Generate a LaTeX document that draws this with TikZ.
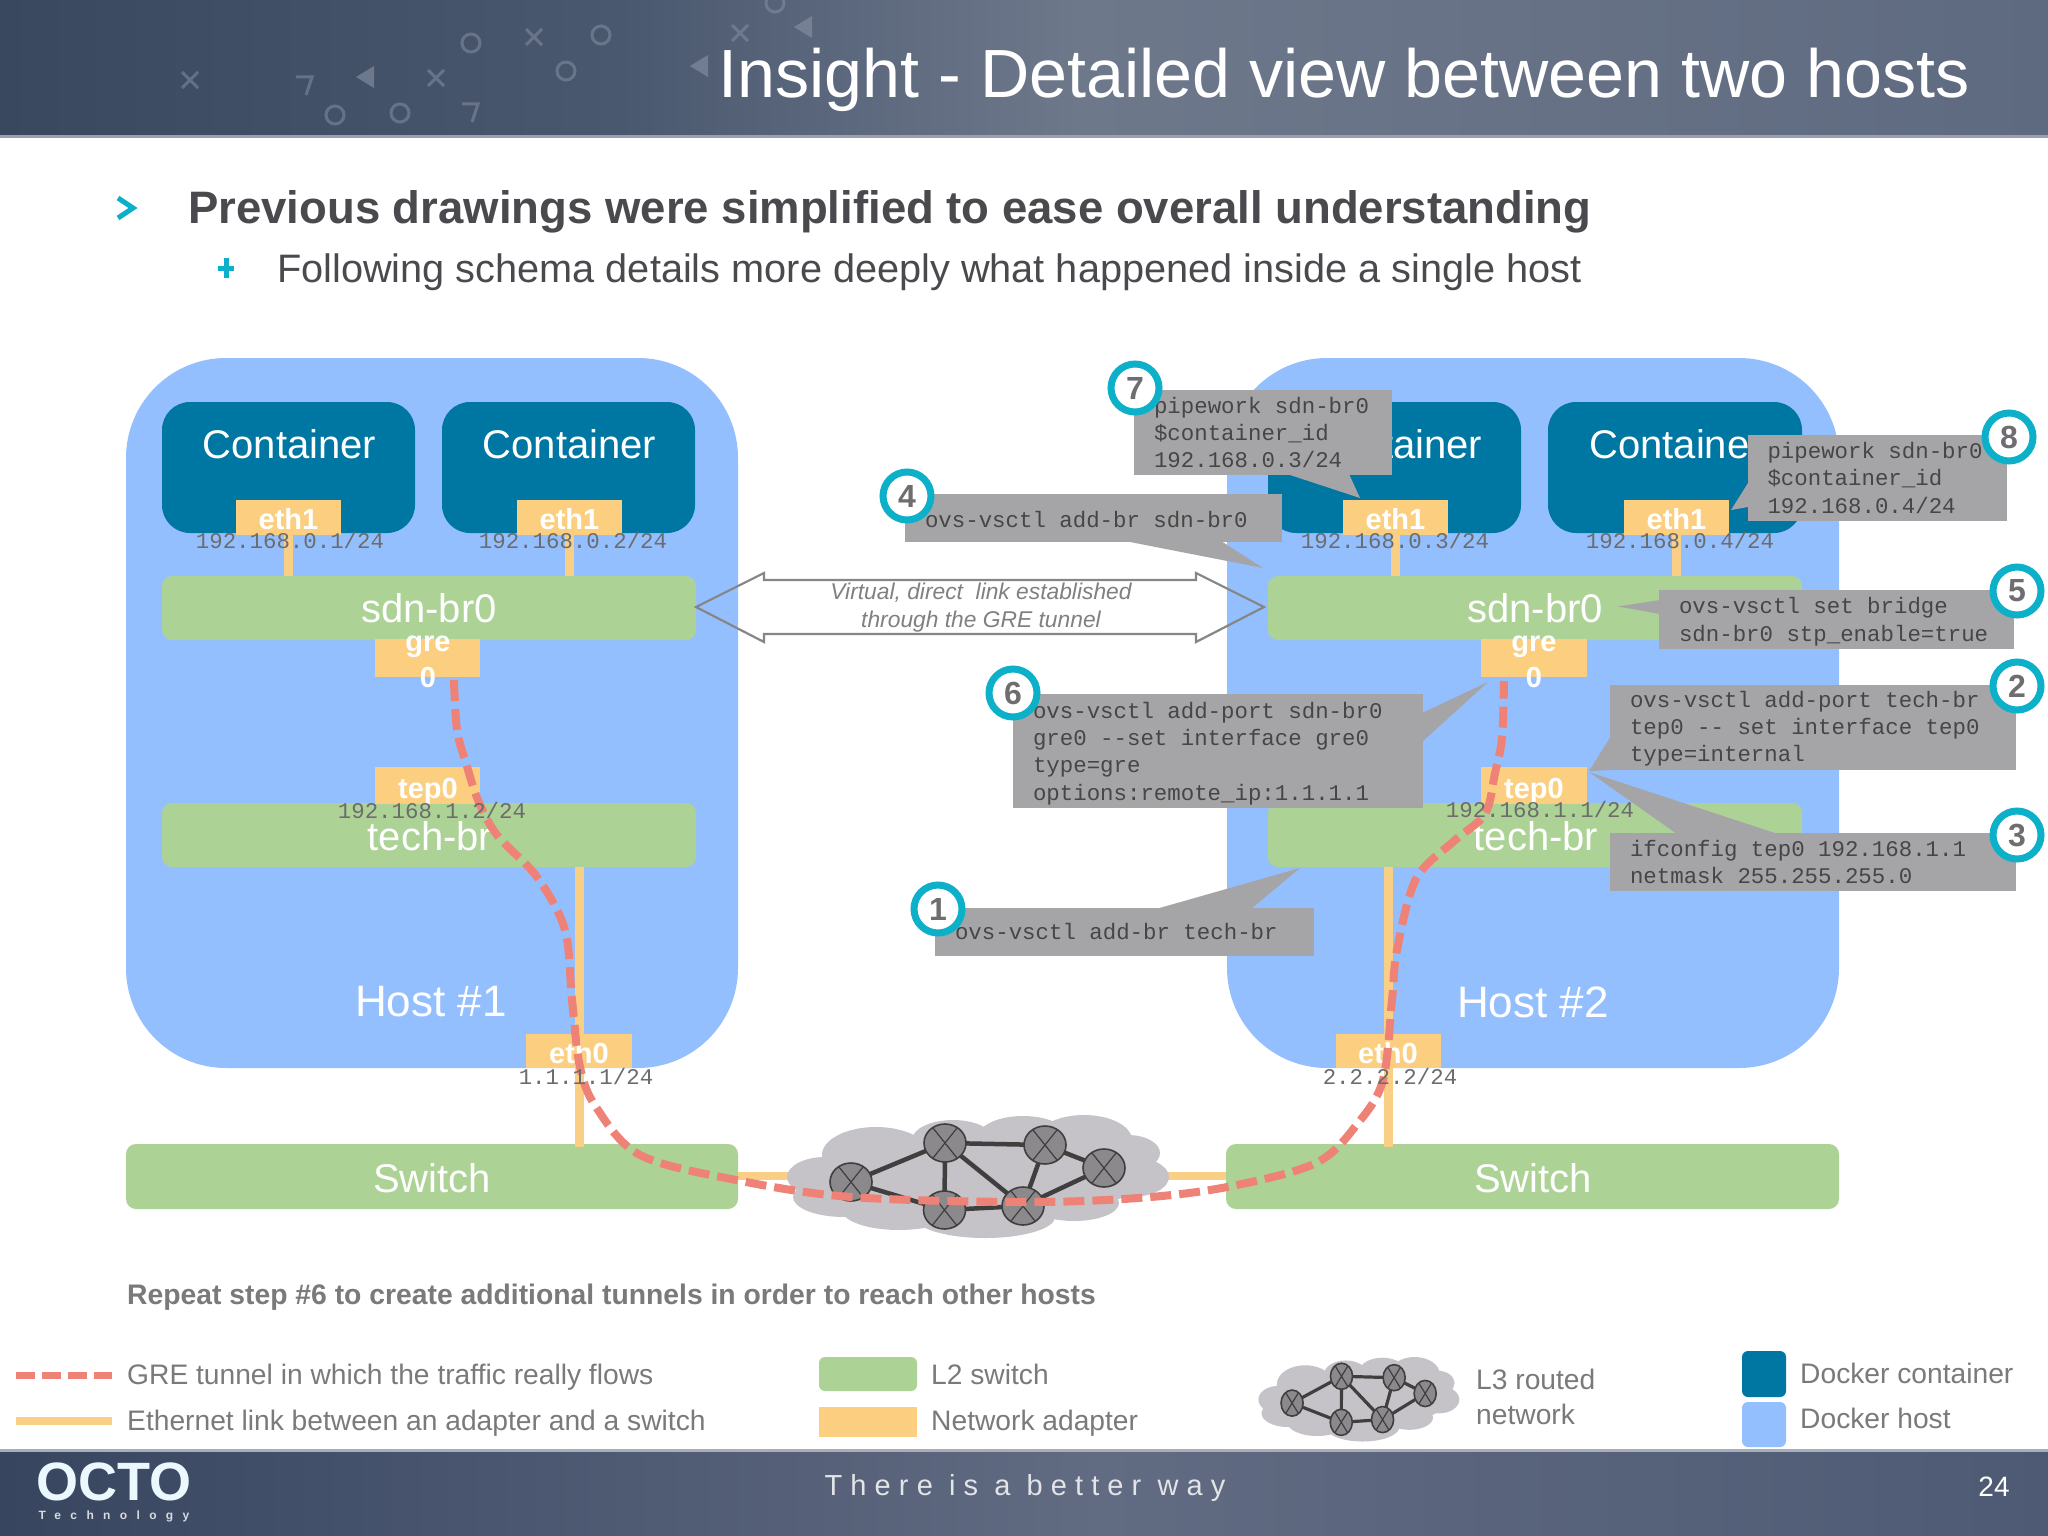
\documentclass[tikz,border=0pt]{standalone}
\usepackage{fontspec}
\setmainfont{Liberation Sans}
\newfontfamily\cmdfont{Liberation Mono}
\newfontfamily\spacedfont[LetterSpace=28]{Liberation Sans}
\newfontfamily\techfont[LetterSpace=78]{Liberation Sans}
\newcommand{\cmdsetup}{\fontsize{22.4}{27.3}\cmdfont\selectfont}
\usetikzlibrary{calc}
\definecolor{hostblue}{HTML}{94BFFF}
\definecolor{contblue}{HTML}{0076A3}
\definecolor{swgreen}{HTML}{ADD296}
\definecolor{adapter}{HTML}{FCCF80}
\definecolor{tunred}{HTML}{EF8277}
\definecolor{linkyel}{HTML}{F8CF85}
\definecolor{calloutgray}{HTML}{A5A5A7}
\definecolor{cmdtext}{HTML}{464646}
\definecolor{iptext}{HTML}{6C6C6C}
\definecolor{ringteal}{HTML}{0DB0C9}
\definecolor{digit}{HTML}{6F6D70}
\definecolor{bodytext}{HTML}{4A494D}
\definecolor{legtext}{HTML}{7A797C}
\definecolor{cloudgray}{HTML}{C5C3C8}
\definecolor{routerfill}{HTML}{8B898C}
\definecolor{routeredge}{HTML}{3F3F3F}
\definecolor{deco}{HTML}{8A93A5}
\definecolor{bandA}{HTML}{39475F}
\definecolor{bandB}{HTML}{4A586F}
\definecolor{bandC}{HTML}{6E788B}
\definecolor{bandD}{HTML}{5E6A80}
\definecolor{footA}{HTML}{37455F}
\definecolor{footB}{HTML}{616B82}
\definecolor{footC}{HTML}{4E5A74}
\tikzset{
  solid box/.style={inner sep=0pt,outer sep=0pt,align=center,text=white},
  hostbox/.style={solid box,fill=hostblue,rounded corners=100pt},
  contbox/.style={solid box,fill=contblue,rounded corners=28pt},
  switchbox/.style={solid box,fill=swgreen,rounded corners=10pt},
  adapterbox/.style={solid box,fill=adapter},
  boxlabel/.style={text=white,inner sep=0pt,font=\fontsize{40}{44}\selectfont},
  adlabel/.style={text=white,inner sep=0pt,font=\fontsize{29}{35}\bfseries\selectfont},
  iplabel/.style={text=iptext,inner sep=0pt,font=\fontsize{22.4}{27}\cmdfont\selectfont},
  ethlink/.style={draw=linkyel,line width=9pt},
  tunnel/.style={draw=tunred,line width=8pt,dash pattern=on 21pt off 8pt},
  calloutbox/.style={fill=calloutgray,inner ysep=0pt,inner xsep=20pt,outer sep=0pt,align=left,text=cmdtext,font=\cmdsetup},
  calloutptr/.style={fill=calloutgray},
  stepring/.style={circle,draw=ringteal,line width=7pt,fill=white,minimum size=48pt,inner sep=0pt,text=digit,font=\fontsize{32}{32}\bfseries\selectfont},
  legendtxt/.style={text=legtext,inner sep=0pt,anchor=mid west,font=\fontsize{28.2}{36}\selectfont},
  decomark/.style={draw=deco,line width=3pt,opacity=.5},
}
\newcommand{\boxat}[7]{%
  \pgfmathsetmacro{\bw}{#4-#2}\pgfmathsetmacro{\bh}{#5-#3}%
  \pgfmathsetmacro{\bcx}{(#2+#4)/2}\pgfmathsetmacro{\bcy}{(#3+#5)/2}%
  \node[#6,minimum width=\bw pt,minimum height=\bh pt] (#1) at (\bcx,\bcy) {#7};}
\newcommand{\callout}[6]{%
  \pgfmathsetmacro{\bw}{#4-#2}\pgfmathsetmacro{\bh}{#5-#3}\pgfmathsetmacro{\bt}{#4-#2-40}%
  \pgfmathsetmacro{\bcx}{(#2+#4)/2}\pgfmathsetmacro{\bcy}{(#3+#5)/2}%
  \node[calloutbox,minimum width=\bw pt,minimum height=\bh pt,text width=\bt pt] (#1) at (\bcx,\bcy) {\spaceskip=13.44pt\xspaceskip=13.44pt\relax #6};}
\newcommand{\cloudnet}[6]{% x0 y0 xscale yscale edge-width prefix
  \begin{scope}[shift={(#1,#2)},xscale=#3,yscale=#4]
    \fill[cloudgray] (876,1155) ellipse (54 and 28) (825,1177) ellipse (38 and 20)
      (844,1197) ellipse (51 and 20) (899,1210) ellipse (57 and 20)
      (985,1217) ellipse (70 and 21) (1074,1203) ellipse (45 and 18)
      (953,1140) ellipse (41 and 20) (1023,1137) ellipse (45 and 21)
      (1084,1140) ellipse (48 and 25) (1128,1153) ellipse (32 and 18)
      (1131,1177) ellipse (38 and 20) (997,1173) ellipse (160 and 40);
    \coordinate (#6a) at (851,1182);\coordinate (#6b) at (945,1143);
    \coordinate (#6c) at (1045,1145);\coordinate (#6d) at (1104,1168);
    \coordinate (#6e) at (944.5,1210);\coordinate (#6f) at (1023,1206);
    \draw[routeredge,line width=#5pt] (#6a)--(#6b)--(#6c)--(#6d)--(#6f)--(#6e)--(#6a)
      (#6b)--(#6e) (#6b)--(#6f) (#6c)--(#6f);
    \foreach \n in {a,b,c,d,e,f}{
      \draw[routeredge,fill=routerfill,line width=1.6pt] (#6\n) ellipse (21 and 19);
      \begin{scope}[shift={(#6\n)}]
        \draw[routeredge,line width=1.2pt] (-12,-15)--(12,15) (12,-15)--(-12,15);
      \end{scope}}
  \end{scope}}
\begin{document}
\begin{tikzpicture}[x=1pt,y=-1pt]
\useasboundingbox (0,0) rectangle (2048,1536);
\fill[white] (0,0) rectangle (2048,1536);
%% header band
\shade[left color=bandA,right color=bandB] (0,0) rectangle (620,135);
\shade[left color=bandB,right color=bandC] (620,0) rectangle (1080,135);
\shade[left color=bandC,right color=bandD] (1080,0) rectangle (2048,135);
\fill[bandC!70!white] (0,135) rectangle (2048,138);
\foreach \mx/\my in {190/80,436/78,534/37,740/33}{
  \begin{scope}[shift={(\mx,\my)}]\draw[decomark] (-8,-8)--(8,8) (8,-8)--(-8,8);\end{scope}}
\foreach \mx/\my in {471/43,601/35,566/71,335/115,400/113,775/3}{
  \begin{scope}[shift={(\mx,\my)}]\draw[decomark] (0,0) circle (9);\end{scope}}
\foreach \mx/\my in {366/77,804/27,700/66}{
  \begin{scope}[shift={(\mx,\my)}]\fill[deco,opacity=.6] (-10,0)--(8,-11)--(8,11)--cycle;\end{scope}}
\foreach \mx/\my in {304/85,470/112}{
  \begin{scope}[shift={(\mx,\my)}]\draw[decomark] (-8,-8)--(8,-8)--(2,10);\end{scope}}
\node[text=white,inner sep=0pt,anchor=mid east,font=\fontsize{68.2}{72}\selectfont] (title) at (1970,95) {Insight - Detailed view between two hosts};
%% bullets
\draw[ringteal,line width=5pt] (118,198)--(133,208)--(118,218);
\node[text=bodytext,inner sep=0pt,anchor=mid west,font=\fontsize{45.5}{50}\bfseries\selectfont] (bul1) at (188,220.5) {Previous drawings were simplified to ease overall understanding};
\draw[ringteal,line width=5pt] (226,258)--(226,278) (218,268)--(234,268);
\node[text=bodytext,inner sep=0pt,anchor=mid west,font=\fontsize{39.7}{46}\selectfont] (bul2) at (277,280) {Following schema details more deeply what happened inside a single host};
%% hosts
\boxat{host1}{126}{358}{738}{1068}{hostbox}{}
\boxat{host2}{1227}{358}{1839}{1068}{hostbox}{}
%% containers
\boxat{c1}{162}{402}{415}{533}{contbox}{}
\boxat{c2}{442}{402}{695}{533}{contbox}{}
\boxat{c3}{1268}{402}{1521}{533}{contbox}{}
\boxat{c4}{1548}{402}{1802}{533}{contbox}{}
\node[boxlabel] (c1t) at (289.5,444) {Container};
\node[boxlabel] (c2t) at (569.5,444) {Container};
\node[boxlabel] (c3t) at (1395.5,444) {Container};
\node[boxlabel] (c4t) at (1676,444) {Container};
%% bridges
\boxat{sdn1}{162}{576}{696}{640}{switchbox}{}
\boxat{sdn2}{1268}{576}{1802}{640}{switchbox}{}
\boxat{tech1}{162}{803}{696}{867}{switchbox}{}
\boxat{tech2}{1268}{803}{1802}{867}{switchbox}{}
\boxat{sw1}{126}{1144}{738}{1209}{switchbox}{}
\boxat{sw2}{1226}{1144}{1839}{1209}{switchbox}{}
\node[boxlabel] at (429,608) {sdn-br0};
\node[boxlabel] at (1535,608) {sdn-br0};
\node[boxlabel] at (430,836) {tech-br};
\node[boxlabel] at (1536,836) {tech-br};
\node[boxlabel] at (432,1178) {Switch};
\node[boxlabel] at (1533,1178) {Switch};
\node[boxlabel,font=\fontsize{44}{48}\selectfont] at (431,1002) {Host \#1};
\node[boxlabel,font=\fontsize{44}{48}\selectfont] at (1533,1002) {Host \#2};
%% adapters
\boxat{e1}{236}{500}{341}{535}{adapterbox}{}
\boxat{e2}{517}{500}{622}{535}{adapterbox}{}
\boxat{e3}{1343}{500}{1448}{535}{adapterbox}{}
\boxat{e4}{1624}{500}{1729}{535}{adapterbox}{}
\boxat{g1}{375}{639}{480}{677}{adapterbox}{}
\boxat{g2}{1481}{639}{1587}{677}{adapterbox}{}
\boxat{t1}{375}{767}{480}{804}{adapterbox}{}
\boxat{t2}{1481}{767}{1587}{804}{adapterbox}{}
\boxat{p1}{526}{1034}{632}{1068}{adapterbox}{}
\boxat{p2}{1336}{1034}{1441}{1068}{adapterbox}{}
%% ethernet links
\foreach \a/\b in {e1/sdn1,e2/sdn1,e3/sdn2,e4/sdn2}{
  \draw[ethlink] (\a.south) -- (\a.south |- \b.north);}
\foreach \a/\b/\c in {p1/tech1/sw1,p2/tech2/sw2}{
  \draw[ethlink] (\a.north) -- (\a.north |- \b.south);
  \draw[ethlink] (\a.south) -- ([yshift=-3pt]\a.south |- \c.north);}
\coordinate (cl) at (792,1176);\coordinate (cr) at (1168,1176);
\draw[ethlink,line width=8pt] (cl) -- (cl -| sw1.east);
\draw[ethlink,line width=8pt] (cr) -- (cr -| sw2.west);
%% cloud
\cloudnet{0}{0}{1}{1}{4.5}{na}
%% adapter labels
\foreach \a/\t in {e1/eth1,e2/eth1,e3/eth1,e4/eth1}{
  \node[adlabel] at ([yshift=-2pt]\a) {\t};}
\node[adlabel] at (428,647) {gre};
\node[adlabel] at (428,678) {0};
\node[adlabel] at (1534,647) {gre};
\node[adlabel] at (1534,678) {0};
\node[adlabel] at (428,791) {tep0};
\node[adlabel] at (1534,791) {tep0};
\node[adlabel] at (579,1053) {eth0};
\node[adlabel] at (1388,1053) {eth0};
%% tunnel
\draw[tunnel] plot[smooth,tension=.55] coordinates {(454,680)(457,730)(466,763)(478,800)(497,835)(537,877)(565,930)(572,1000)(580,1067)(596,1107)(640,1155)(736,1180)(851,1197)(1023,1202)(1138,1198)(1227,1187)(1316,1163)(1358,1123)(1383,1080)(1392,1000)(1397,950)(1416,879)(1454,841)(1485,814)(1495,773)(1502,738)(1504,681)};
%% IP labels
\node[iplabel] at (290,540) {192.168.0.1/24};
\node[iplabel] at (573,540) {192.168.0.2/24};
\node[iplabel] at (1395,540) {192.168.0.3/24};
\node[iplabel] at (1680,540) {192.168.0.4/24};
\node[iplabel] at (432,810) {192.168.1.2/24};
\node[iplabel] at (1540,809) {192.168.1.1/24};
\node[iplabel] at (586,1076) {1.1.1.1/24};
\node[iplabel] at (1390,1076) {2.2.2.2/24};
%% virtual link arrow
\draw[draw=gray!95,line width=2.2pt] (696,607)--(764,573)--(764,580)--(1196,580)--(1196,573)--(1264,607)--(1196,642)--(1196,634)--(764,634)--(764,642)--cycle;
\node[text=gray,inner sep=0pt,align=center,font=\fontsize{22.8}{28}\itshape\selectfont] (vlink) at (981,608) {Virtual, direct\ \ link established\\through the GRE tunnel};
%% callouts
\fill[calloutptr] (1287,474)--(1360,498)--(1349,474)--cycle;
\callout{cmd7}{1134}{390}{1392}{475}{pipework sdn-br0\\\$container\_id\\192.168.0.3/24}
\fill[calloutptr] (1125,541)--(1263,568)--(1221,541)--cycle;
\callout{cmd4}{905}{494}{1282}{542}{\rule{0pt}{19pt}ovs-vsctl add-br sdn-br0}
\fill[calloutptr] (1422,713)--(1488,682)--(1422,742)--cycle;
\callout{cmd6}{1013}{694}{1423}{808}{\rule{0pt}{21pt}ovs-vsctl add-port sdn-br0\\gre0 --set interface gre0\\type=gre\\options:remote\_ip:1.1.1.1}
\fill[calloutptr] (1156,909)--(1300,868)--(1251,909)--cycle;
\callout{cmd1}{935}{908}{1314}{956}{ovs-vsctl add-br tech-br}
\fill[calloutptr] (1748,483)--(1731,510)--(1748,507)--cycle;
\callout{cmd8}{1747.5}{435}{2006.5}{520.5}{pipework sdn-br0\\\$container\_id\\192.168.0.4/24}
\fill[calloutptr] (1660,600)--(1618,606.5)--(1660,614)--cycle;
\callout{cmd5}{1659}{590}{2014}{648.5}{\rule{0pt}{21pt}ovs-vsctl set bridge\\sdn-br0 stp\_enable=true}
\fill[calloutptr] (1611,736)--(1589,771)--(1611,770)--cycle;
\callout{cmd2}{1610}{685}{2016}{770}{\rule{0pt}{19pt}ovs-vsctl add-port tech-br\\tep0 -- set interface tep0\\type=internal}
\fill[calloutptr] (1677,834)--(1589,772)--(1778,834)--cycle;
\callout{cmd3}{1610}{833}{2016}{891}{ifconfig tep0 192.168.1.1\\netmask 255.255.255.0}
%% step rings
\node[stepring] (s7) at (1135,388) {7};
\node[stepring] (s4) at (907,496) {4};
\node[stepring] (s6) at (1013,693) {6};
\node[stepring] (s1) at (938,909) {1};
\node[stepring] (s8) at (2009,437) {8};
\node[stepring] (s5) at (2017,591) {5};
\node[stepring] (s2) at (2017,686) {2};
\node[stepring] (s3) at (2017,835) {3};
%% note
\node[text=legtext,inner sep=0pt,anchor=mid west,font=\fontsize{28.3}{34}\bfseries\selectfont] (note) at (127,1302) {Repeat step \#6 to create additional tunnels in order to reach other hosts};
%% legend
\coordinate (l1a) at (16,1375);\coordinate (l1b) at (112,1375);
\draw[draw=tunred,line width=7pt,dash pattern=on 19pt off 7pt] (l1a) -- (l1b);
\coordinate (l2a) at (16,1421);\coordinate (l2b) at (112,1421);
\draw[draw=linkyel,line width=8pt] (l2a) -- (l2b);
\node[legendtxt] (lg1) at (127,1381.5) {GRE tunnel in which the traffic really flows};
\node[legendtxt] (lg2) at (127,1427.5) {Ethernet link between an adapter and a switch};
\boxat{ls1}{819}{1357}{917}{1391}{switchbox,rounded corners=6pt}{}
\boxat{ls2}{819}{1407}{917}{1437}{adapterbox}{}
\node[legendtxt] (lg3) at (931,1381.5) {L2 switch};
\node[legendtxt] (lg4) at (931,1427.5) {Network adapter};
\cloudnet{844.4}{591}{.526}{.687}{3.2}{nb}
\node[legendtxt] (lg5) at (1476,1386.5) {L3 routed};
\node[legendtxt] (lg6) at (1476,1421.5) {network};
\boxat{ls3}{1742}{1351}{1786}{1397}{contbox,rounded corners=6pt}{}
\boxat{ls4}{1742}{1402}{1786}{1447}{hostbox,rounded corners=6pt}{}
\node[legendtxt] (lg7) at (1800,1380.5) {Docker container};
\node[legendtxt] (lg8) at (1800,1425.5) {Docker host};
%% footer
\shade[left color=footA,right color=footB] (0,1452) rectangle (1100,1536);
\shade[left color=footB,right color=footC] (1100,1452) rectangle (2048,1536);
\fill[bandC!60!white] (0,1449) rectangle (2048,1452);
\node[text=white!92!cyan,inner sep=0pt,font=\fontsize{54}{54}\bfseries\selectfont] (logo) at (114,1482) {OCTO};
\node[text=white!80!bandA,inner sep=0pt,font=\fontsize{12}{14}\techfont\bfseries\selectfont] (tech) at (114,1516) {Technology};
\node[text=white!80!bandC,inner sep=0pt,font=\fontsize{29}{34}\spacedfont\selectfont] (way) at (1025,1488) {There is a better way};
\node[text=white,inner sep=0pt,font=\fontsize{28}{32}\selectfont] (pg) at (1994,1487) {24};
\end{tikzpicture}
\end{document}
